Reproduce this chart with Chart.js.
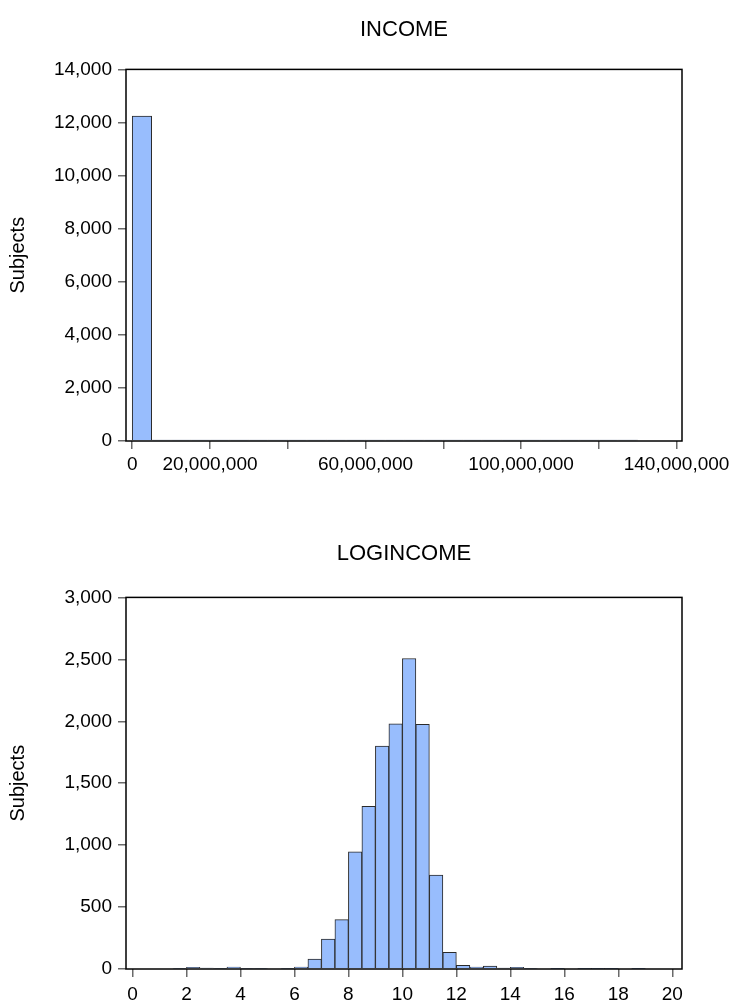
<!DOCTYPE html>
<html>
<head>
<meta charset="utf-8">
<script src="https://cdn.jsdelivr.net/npm/chart.js@4/dist/chart.umd.min.js"></script>
<style>
  html, body { margin: 0; padding: 0; background: #fff; }
  #page { position: relative; width: 731px; height: 1003px; }
  .panel { position: absolute; left: 0; width: 731px; }
  #incomePanel { top: 0; height: 500px; }
  #logPanel { top: 500px; height: 503px; }
</style>
</head>
<body>
<div id="page">
  <div class="panel" id="incomePanel"><canvas id="incomeChart"></canvas></div>
  <div class="panel" id="logPanel"><canvas id="logChart"></canvas></div>
</div>
<script>
// ---- INCOME histogram: bins of 5,000,000 ----
const incomeBinWidth = 5000000;
const incomeBinStarts = [
  0, 5000000, 10000000, 15000000, 20000000, 25000000, 30000000, 35000000,
  40000000, 45000000, 50000000, 55000000, 60000000, 65000000, 70000000,
  75000000, 80000000, 85000000, 90000000, 95000000, 100000000, 105000000,
  110000000, 115000000, 120000000, 125000000
];
const incomeCounts = [
  12240, 9, 3, 2, 1, 1, 0, 1, 0, 0, 0, 0, 0, 1, 0,
  0, 0, 0, 0, 0, 0, 0, 0, 0, 0, 1
];
const incomeTickValues = [0, 20000000, 40000000, 60000000, 80000000, 100000000, 120000000, 140000000];
const incomeTickLabels = ['0', '20,000,000', '', '60,000,000', '', '100,000,000', '', '140,000,000'];
const incomeYTicks = [0, 2000, 4000, 6000, 8000, 10000, 12000, 14000];

// ---- LOGINCOME histogram: bins of 0.5 ----
const logBinWidth = 0.5;
const logBinStarts = [
  1.5, 2, 2.5, 3, 3.5, 4, 4.5, 5, 5.5, 6, 6.5, 7, 7.5, 8, 8.5, 9, 9.5, 10,
  10.5, 11, 11.5, 12, 12.5, 13, 13.5, 14, 14.5, 15, 15.5, 16, 16.5, 17, 17.5,
  18, 18.5
];
const logCounts = [
  5, 13, 8, 5, 16, 5, 5, 0, 5, 16, 81, 242, 399, 945, 1313, 1800, 1980, 2507,
  1975, 758, 134, 30, 16, 24, 8, 13, 5, 0, 3, 0, 3, 3, 3,
  0, 3
];
const logTickValues = [0, 2, 4, 6, 8, 10, 12, 14, 16, 18, 20];
const logTickLabels = ['0', '2', '4', '6', '8', '10', '12', '14', '16', '18', '20'];
const logYTicks = [0, 500, 1000, 1500, 2000, 2500, 3000];

const FONT = "'Liberation Sans', Arial, sans-serif";
Chart.defaults.font.family = FONT;
Chart.defaults.color = '#000';

const BAR_FILL = '#98bdfd';
const BAR_EDGE = '#2a2a2a';
const TICK_COLOR = '#6a6a6a';

// Black box drawn around the plotting area
const frameBox = {
  id: 'frameBox',
  afterDatasetsDraw(chart) {
    const { ctx, chartArea: a } = chart;
    ctx.save();
    ctx.strokeStyle = '#000';
    ctx.lineWidth = 1.5;
    ctx.strokeRect(a.left, a.top, a.right - a.left, a.bottom - a.top);
    ctx.restore();
  }
};

function fmt(v) {
  return Number(v).toLocaleString('en-US');
}

function histogram(canvasId, cfg) {
  const points = cfg.starts.map((s, i) => ({ x: s + cfg.binWidth / 2, y: cfg.counts[i] }));
  return new Chart(document.getElementById(canvasId), {
    type: 'bar',
    data: {
      datasets: [{
        data: points,
        backgroundColor: BAR_FILL,
        borderColor: BAR_EDGE,
        borderWidth: 1,
        barPercentage: 1,
        categoryPercentage: 1,
        minBarLength: cfg.minBar
      }]
    },
    plugins: [frameBox],
    options: {
      responsive: true,
      maintainAspectRatio: false,
      animation: false,
      events: [],
      layout: { padding: { left: 0, right: 49, top: 0, bottom: 0 } },
      plugins: {
        legend: { display: false },
        tooltip: { enabled: false },
        title: {
          display: true,
          fullSize: false,
          text: cfg.title,
          font: { size: 22, weight: 'normal', family: FONT },
          color: '#000',
          padding: cfg.titlePad
        }
      },
      scales: {
        x: {
          type: 'linear',
          min: cfg.xMin,
          max: cfg.xMax,
          offset: false,
          grid: {
            offset: false,
            drawOnChartArea: false,
            drawTicks: true,
            tickLength: 8,
            color: TICK_COLOR,
            lineWidth: 1.5
          },
          border: { display: false },
          afterBuildTicks(scale) {
            scale.ticks = cfg.xTicks.map(v => ({ value: v }));
          },
          ticks: {
            autoSkip: false,
            maxRotation: 0,
            padding: cfg.xLabelPad,
            font: { size: 19 },
            color: '#000',
            callback: (v, i) => cfg.xLabels[i]
          },
          afterFit(scale) {
            scale.height = cfg.xHeight;
            scale.paddingLeft = 0;
            scale.paddingRight = 0;
          }
        },
        y: {
          type: 'linear',
          min: cfg.yTicks[0],
          max: cfg.yTicks[cfg.yTicks.length - 1],
          grid: {
            drawOnChartArea: false,
            drawTicks: true,
            tickLength: 8,
            color: TICK_COLOR,
            lineWidth: 1.5
          },
          border: { display: false },
          afterBuildTicks(scale) {
            scale.ticks = cfg.yTicks.map(v => ({ value: v }));
          },
          ticks: {
            padding: 6,
            font: { size: 19 },
            color: '#000',
            callback: v => fmt(v)
          },
          title: {
            display: true,
            text: 'Subjects',
            font: { size: 20 },
            color: '#000',
            padding: { top: 6, bottom: 0 }
          },
          afterFit(scale) {
            scale.width = 126;
            scale.paddingTop = 0;
            scale.paddingBottom = 0;
          }
        }
      }
    }
  });
}

histogram('incomeChart', {
  title: 'INCOME',
  starts: incomeBinStarts,
  counts: incomeCounts,
  binWidth: incomeBinWidth,
  minBar: 1,
  xMin: -1600000,
  xMax: 141400000,
  xTicks: incomeTickValues,
  xLabels: incomeTickLabels,
  xLabelPad: 4,
  yTicks: incomeYTicks,
  titlePad: { top: 17, bottom: 26 },
  xHeight: 59
});

histogram('logChart', {
  title: 'LOGINCOME',
  starts: logBinStarts,
  counts: logCounts,
  binWidth: logBinWidth,
  minBar: 0,
  xMin: -0.24,
  xMax: 20.36,
  xTicks: logTickValues,
  xLabels: logTickLabels,
  xLabelPad: 6,
  yTicks: logYTicks,
  titlePad: { top: 41, bottom: 30 },
  xHeight: 34
});
</script>
</body>
</html>
